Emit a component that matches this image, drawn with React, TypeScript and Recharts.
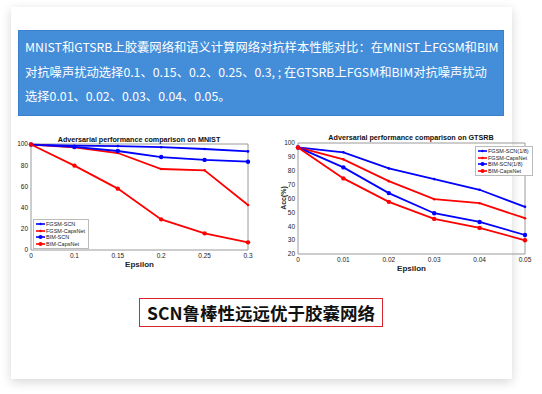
import { LineChart, Line, XAxis, YAxis, Legend, ReferenceArea } from 'recharts'

const mnistEps = ['0', '0.1', '0.15', '0.2', '0.25', '0.3']
const mnistFgsmScn = [99.5, 98.4, 98, 97, 95.3, 93]
const mnistFgsmCaps = [99.5, 96.8, 91.5, 76.4, 75.2, 42.5]
const mnistBimScn = [99.5, 97.2, 93.4, 87.7, 85, 83.3]
const mnistBimCaps = [99.5, 79.6, 57.9, 28.9, 15.7, 7.2]
const mnistTicks = [0, 20, 40, 60, 80, 100]

const gtsrbEps = ['0', '0.01', '0.02', '0.03', '0.04', '0.05']
const gtsrbFgsmScn = [96.8, 93.3, 81.7, 74, 66.3, 54]
const gtsrbFgsmCaps = [96.8, 88.2, 72.5, 59.5, 56.6, 45.8]
const gtsrbBimScn = [96.8, 82.4, 63.9, 49.4, 43.1, 33.7]
const gtsrbBimCaps = [96.8, 74.5, 57.6, 45.3, 38.8, 29.9]
const gtsrbTicks = [20, 30, 40, 50, 60, 70, 80, 90, 100]

const headerLines = [
  'MNIST和GTSRB上胶囊网络和语义计算网络对抗样本性能对比：在MNIST上FGSM和BIM',
  '对抗噪声扰动选择0.1、0.15、0.2、0.25、0.3, ; 在GTSRB上FGSM和BIM对抗噪声扰动',
  '选择0.01、0.02、0.03、0.04、0.05。',
]
const conclusion = 'SCN鲁棒性远远优于胶囊网络'

const BLUE = '#0000ff'
const RED = '#ff0000'
const FONT = '"Liberation Sans", Arial, sans-serif'
const CJK = '"Noto Sans CJK SC", "Noto Sans", sans-serif'

type Series = { key: string; label: string; color: string; big: boolean; values: number[] }

function buildRows(eps: string[], series: Series[]) {
  return eps.map((e, i) => {
    const row: Record<string, unknown> = { eps: e }
    series.forEach(s => { row[s.key] = s.values[i] })
    return row
  })
}

function Dot(props: any) {
  const { cx, cy, stroke, big } = props
  if (cx == null || cy == null) return null
  return <circle cx={cx} cy={cy} r={big ? 2.2 : 1.3} fill={stroke} stroke="none" />
}

function LegendBox({ series }: { series: Series[] }) {
  return (
    <div style={{
      border: '1px solid #bbb', background: '#fff', padding: '1px 3px 1px 2px',
      fontFamily: FONT, fontSize: 5.5, lineHeight: '6.5px', color: '#222',
    }}>
      {series.map(s => (
        <div key={s.key} style={{ display: 'flex', alignItems: 'center', whiteSpace: 'nowrap' }}>
          <svg width={9} height={6} style={{ marginRight: 1 }}>
            <line x1={0} y1={3} x2={9} y2={3} stroke={s.color} strokeWidth={1.6} />
            <circle cx={4.5} cy={3} r={s.big ? 2 : 1.2} fill={s.color} />
          </svg>
          {s.label}
        </div>
      ))}
    </div>
  )
}

type ChartProps = {
  eps: string[]
  series: Series[]
  ticks: number[]
  width: number
  height: number
  margin: { top: number; right: number; bottom: number; left: number }
  yWidth: number
  legendPos: { left: number; top: number }
}

function AccChart({ eps, series, ticks, width, height, margin, yWidth, legendPos }: ChartProps) {
  const data = buildRows(eps, series)
  const lo = ticks[0]
  const hi = ticks[ticks.length - 1]
  return (
    <LineChart width={width} height={height} data={data} margin={margin}>
      <ReferenceArea x1={eps[0]} x2={eps[eps.length - 1]} y1={lo} y2={hi} fill="none" stroke="#9a9a9a" strokeWidth={1} />
      <XAxis
        dataKey="eps"
        axisLine={false}
        tickLine={false}
        tickSize={0}
        tickMargin={3}
        height={20}
        interval={0}
        tick={{ fontSize: 6.5, fill: '#222', fontFamily: FONT }}
        label={{ value: 'Epsilon', position: 'insideBottom', offset: 3, style: { fontSize: 8, fontWeight: 'bold', fill: '#222', fontFamily: FONT } }}
      />
      <YAxis
        domain={[lo, hi]}
        ticks={ticks}
        axisLine={false}
        tickLine={false}
        tickSize={0}
        tickMargin={3}
        width={yWidth}
        interval={0}
        tick={{ fontSize: 6.5, fill: '#222', fontFamily: FONT }}
      />
      <Legend
        layout="vertical"
        align="center"
        verticalAlign="middle"
        wrapperStyle={{ left: legendPos.left, top: legendPos.top, width: 'auto' }}
        content={() => <LegendBox series={series} />}
      />
      {series.map(s => (
        <Line
          key={s.key}
          type="linear"
          dataKey={s.key}
          stroke={s.color}
          strokeWidth={1.8}
          dot={(p: any) => <Dot key={p.index} {...p} big={s.big} />}
          isAnimationActive={false}
        />
      ))}
    </LineChart>
  )
}

const mnistSeries: Series[] = [
  { key: 'fgsmScn', label: 'FGSM-SCN', color: BLUE, big: false, values: mnistFgsmScn },
  { key: 'fgsmCaps', label: 'FGSM-CapsNet', color: RED, big: false, values: mnistFgsmCaps },
  { key: 'bimScn', label: 'BIM-SCN', color: BLUE, big: true, values: mnistBimScn },
  { key: 'bimCaps', label: 'BIM-CapsNet', color: RED, big: true, values: mnistBimCaps },
]

const gtsrbSeries: Series[] = [
  { key: 'fgsmScn', label: 'FGSM-SCN(1/8)', color: BLUE, big: false, values: gtsrbFgsmScn },
  { key: 'fgsmCaps', label: 'FGSM-CapsNet', color: RED, big: false, values: gtsrbFgsmCaps },
  { key: 'bimScn', label: 'BIM-SCN(1/8)', color: BLUE, big: true, values: gtsrbBimScn },
  { key: 'bimCaps', label: 'BIM-CapsNet', color: RED, big: true, values: gtsrbBimCaps },
]

const titleStyle: React.CSSProperties = {
  position: 'absolute', fontFamily: FONT, fontSize: 7.2, fontWeight: 'bold',
  color: '#111', whiteSpace: 'nowrap', transform: 'translate(-50%, -50%)',
}

export default function App() {
  return (
    <div style={{ position: 'absolute', left: 0, top: 0, width: 542, height: 394, background: '#fff', overflow: 'hidden' }}>
      <div style={{
        position: 'absolute', left: 11, top: 7, width: 501, height: 372, background: '#fff',
        boxShadow: '0 3px 10px rgba(0,0,0,0.16)',
      }} />

      <div style={{
        position: 'absolute', left: 18, top: 30, width: 486, height: 86, background: '#448dd9',
        border: '1px solid #3b80cf', boxSizing: 'border-box', padding: '4px 0 0 6px',
        fontFamily: CJK, fontSize: 12.3, lineHeight: '24.5px', color: '#fff', whiteSpace: 'nowrap',
      }}>
        {headerLines.map(l => <div key={l}>{l}</div>)}
      </div>

      <div style={{ position: 'absolute', left: 0, top: 125 }}>
        <AccChart
          eps={mnistEps}
          series={mnistSeries}
          ticks={mnistTicks}
          width={260}
          height={150}
          margin={{ top: 19, right: 12, bottom: 5, left: 10 }}
          yWidth={21}
          legendPos={{ left: 33, top: 94 }}
        />
      </div>
      <div style={{ ...titleStyle, left: 139, top: 139 }}>Adversarial performance comparison on MNIST</div>

      <div style={{ position: 'absolute', left: 270, top: 125 }}>
        <AccChart
          eps={gtsrbEps}
          series={gtsrbSeries}
          ticks={gtsrbTicks}
          width={265}
          height={150}
          margin={{ top: 18, right: 10, bottom: 1, left: 6 }}
          yWidth={22}
          legendPos={{ left: 205, top: 21 }}
        />
      </div>
      <div style={{ ...titleStyle, left: 411, top: 137 }}>Adversarial performance comparison on GTSRB</div>
      <div style={{
        position: 'absolute', left: 283, top: 198, transform: 'translate(-50%, -50%) rotate(-90deg)',
        fontFamily: FONT, fontSize: 7, fontWeight: 'bold', color: '#222', whiteSpace: 'nowrap',
      }}>Acc(%)</div>

      <div style={{
        position: 'absolute', left: 139, top: 298, width: 244, height: 29, boxSizing: 'border-box',
        border: '1px solid #d9262e', display: 'flex', alignItems: 'center', justifyContent: 'center',
        fontFamily: CJK, fontSize: 17.5, fontWeight: 'bold', color: '#111', whiteSpace: 'nowrap',
      }}>{conclusion}</div>
    </div>
  )
}
